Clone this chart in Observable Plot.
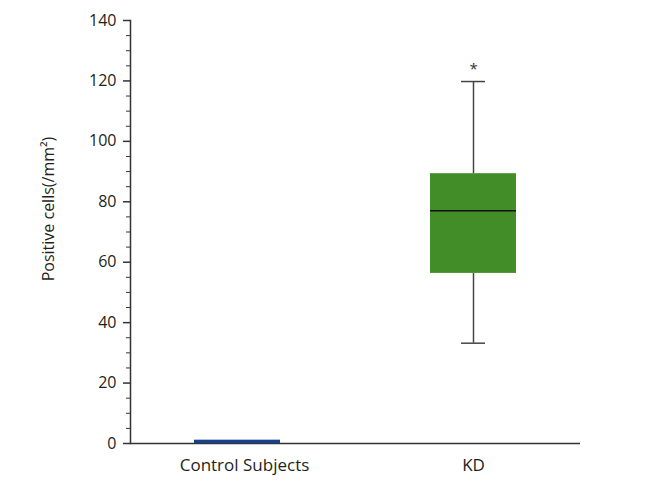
<!DOCTYPE html>
<html>
<head>
<meta charset="utf-8">
<script src="https://cdn.jsdelivr.net/npm/d3@7"></script>
<script src="https://cdn.jsdelivr.net/npm/@observablehq/plot@0.6"></script>
<style>
  html, body { margin: 0; padding: 0; background: #fff; }
  #chart svg { display: block; }
</style>
</head>
<body>
<div id="chart"></div>
<script>
const groups = ["Control Subjects", "KD"];
const lowerWhisker = [0, 33.2];
const q1 = [0, 56.3];
const median = [null, 77.0];
const q3 = [1.1, 89.3];
const upperWhisker = [0, 119.8];
const significance = ["", "*"];
const yMajorTicks = [0, 20, 40, 60, 80, 100, 120, 140];
const yLabel = "Positive cells(/mm²)";

const fills = ["#17408f", "#428d27"];

const rows = groups.map((g, i) => ({
  group: g, lo: lowerWhisker[i], q1: q1[i], med: median[i], q3: q3[i], hi: upperWhisker[i],
  sig: significance[i], fill: fills[i]
}));
const withWhiskers = rows.filter(d => d.hi > d.q3);
const minorTicks = d3.range(0, 141, 5).filter(v => !yMajorTicks.includes(v));

const font = "'Open Sans', sans-serif";
const axisColor = "#333";
const textColor = "#231f20";

const chart = Plot.plot({
  width: 655,
  height: 491,
  marginLeft: 130,
  marginRight: 75,
  marginTop: 20,
  marginBottom: 48,
  style: { fontFamily: font, fontSize: "16px", color: textColor, background: "#fff" },
  x: { domain: groups, paddingInner: 0.636, paddingOuter: 0.271, label: null },
  y: { domain: [0, 140], label: null },
  marks: [
    Plot.axisY({ ticks: yMajorTicks, tickSize: 7, tickPadding: 7, stroke: axisColor, strokeWidth: 1.5, fill: textColor, fontSize: 16, label: null }),
    Plot.axisY({ ticks: minorTicks, tickSize: 4, text: null, stroke: axisColor, strokeWidth: 1, label: null }),
    Plot.axisX({ ticks: [groups[0]], tickSize: 0, tickPadding: 15, dx: 7, fill: textColor, fontSize: 17, label: null }),
    Plot.axisX({ ticks: [groups[1]], tickSize: 0, tickPadding: 15, fill: textColor, fontSize: 17, label: null }),
    Plot.frame({ anchor: "left", stroke: axisColor, strokeWidth: 1.5 }),
    Plot.ruleY([0], { stroke: axisColor, strokeWidth: 1.5 }),
    Plot.ruleX(withWhiskers, { x: "group", y1: "lo", y2: "q1", stroke: "#444", strokeWidth: 1.5 }),
    Plot.ruleX(withWhiskers, { x: "group", y1: "q3", y2: "hi", stroke: "#444", strokeWidth: 1.5 }),
    Plot.tickY(withWhiskers, { x: "group", y: "lo", insetLeft: 31, insetRight: 31, stroke: "#444", strokeWidth: 1.5 }),
    Plot.tickY(withWhiskers, { x: "group", y: "hi", insetLeft: 31, insetRight: 31, stroke: "#444", strokeWidth: 1.5 }),
    Plot.barY(rows, { x: "group", y1: "q1", y2: "q3", fill: d => d.fill }),
    Plot.tickY(rows.filter(d => d.med != null), { x: "group", y: "med", stroke: "#111", strokeWidth: 1.5 }),
    Plot.text(withWhiskers, { x: "group", y: "hi", text: "sig", dy: -12, fontSize: 15, fill: "#333" }),
    Plot.text([yLabel], { frameAnchor: "left", textAnchor: "middle", rotate: -90, dx: -82, dy: -23, fontSize: 16, fill: textColor })
  ]
});
document.getElementById("chart").appendChild(chart);
</script>
</body>
</html>
